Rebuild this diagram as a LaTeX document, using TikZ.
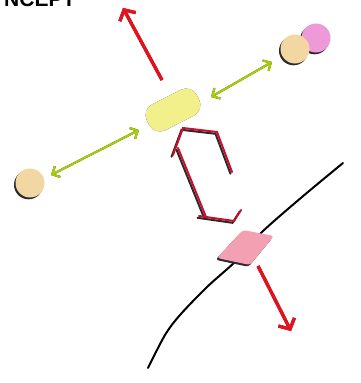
\documentclass[tikz,border=0pt]{standalone}
\usepackage{fontspec}
\setmainfont{Liberation Sans}
\usetikzlibrary{arrows.meta}
\definecolor{redA}{HTML}{E8101C}
\definecolor{redB}{HTML}{C8102E}
\definecolor{greenA}{HTML}{A6D000}
\definecolor{yellowA}{HTML}{F2F08A}
\definecolor{tanA}{HTML}{F2D7A2}
\definecolor{pinkA}{HTML}{EE9AD8}
\definecolor{pinkB}{HTML}{F2A0B2}
\definecolor{shadowc}{HTML}{2A2A2A}
\tikzset{
  blob/.style={rectangle, rounded corners=12pt, minimum width=56pt, minimum height=29pt, inner sep=0pt},
  ball/.style={circle, minimum size=29pt, inner sep=0pt},
  garrow/.style={line width=2pt, {Straight Barb[length=6pt,width=12pt]}-{Straight Barb[length=6pt,width=12pt]}},
  rarrow/.style={line width=3.2pt, -{Straight Barb[length=8pt,width=18pt]}},
  bracket/.style={line width=2pt, line join=miter, line cap=round},
  shd/.style={shift={(-1.5,1.8)}}
}
\begin{document}
\begin{tikzpicture}[x=1pt,y=-1pt]
\useasboundingbox (0,0) rectangle (360,383);
\clip (0,0) rectangle (360,383);
\fill[white] (0,0) rectangle (360,383);
\node[anchor=base west, font=\bfseries\fontsize{21}{21}\selectfont, inner sep=0pt] (title) at (4,6.5) {NCEPT};

% black line
\draw[line width=2pt, line cap=round] plot[smooth] coordinates {(343,163) (302,197) (262,232) (237,260) (207,287) (180,315) (165,335) (148,368)};

% coordinates
\coordinate (Y) at (173,110);
\coordinate (R1s) at (162,80);
\coordinate (R1e) at (123,8);
\coordinate (R2s) at (258,266);
\coordinate (R2e) at (291,331);
\coordinate (G1a) at (139,130);
\coordinate (G1b) at (51,175);
\coordinate (G2a) at (211,97);
\coordinate (G2b) at (272,62);

% shadows
\begin{scope}[shd]
  \node[ball, fill=shadowc] at (316,38) {};
  \node[ball, fill=shadowc] at (295,49) {};
  \node[ball, fill=shadowc] at (30,183) {};
  \node[blob, fill=shadowc, rotate=27] at (Y) {};
  \fill[shadowc, rounded corners=3pt] (243,230) -- (274,236) -- (250,265) -- (217,258) -- cycle;
  \draw[rarrow, shadowc] (R1s) -- (R1e);
  \draw[rarrow, shadowc] (R2s) -- (R2e);
  \draw[garrow, shadowc] (G1a) -- (G1b);
  \draw[garrow, shadowc] (G2a) -- (G2b);
  \draw[bracket, shadowc] (173,155) -- (183,128) -- (217,132) -- (232,172);
  \draw[bracket, shadowc] (178,148) -- (206,217);
  \draw[bracket, shadowc] (199,216) -- (234,221) -- (241,210);
\end{scope}

% shapes
\node[ball, fill=pinkA] (pink) at (316,38) {};
\node[ball, fill=tanA] (tanR) at (295,49) {};
\node[ball, fill=tanA] (tanL) at (30,183) {};
\node[blob, fill=yellowA, rotate=27] (yb) at (Y) {};
\fill[pinkB, rounded corners=3pt] (243,230) -- (274,236) -- (250,265) -- (217,258) -- cycle;
\coordinate (pb) at (246,248);

% arrows
\draw[rarrow, redA] (R1s) -- (R1e);
\draw[rarrow, redA] (R2s) -- (R2e);
\draw[garrow, greenA] (G1a) -- (G1b);
\draw[garrow, greenA] (G2a) -- (G2b);

% red bracket
\draw[bracket, redB] (173,155) -- (183,128) -- (217,132) -- (232,172);
\draw[bracket, redB] (178,148) -- (206,217);
\draw[bracket, redB] (199,216) -- (234,221) -- (241,210);
\end{tikzpicture}
\end{document}
